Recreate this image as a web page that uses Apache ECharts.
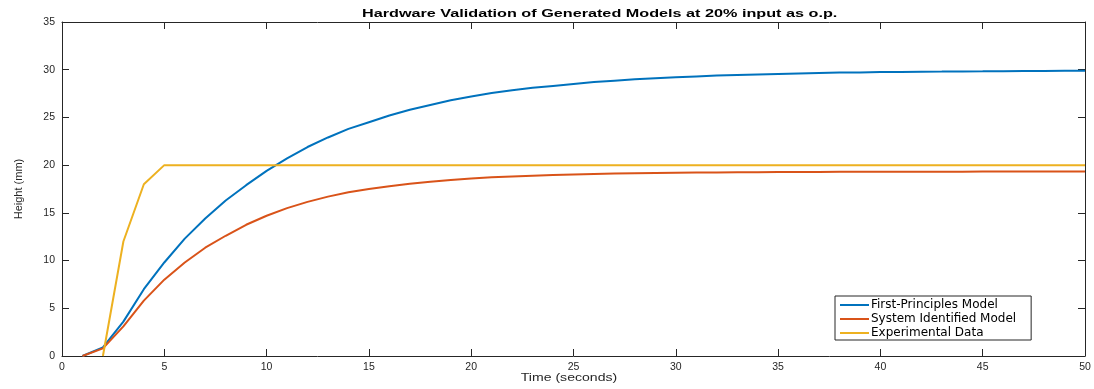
<!DOCTYPE html>
<html>
<head>
<meta charset="utf-8">
<script src="https://cdn.jsdelivr.net/npm/echarts@6/dist/echarts.min.js"></script>
<style>html,body{margin:0;padding:0;background:#fff;}#c{width:1094px;height:389px;}</style>
</head>
<body>
<div id="c"></div>
<script>
const timeModel = [1,2,3,4,5,6,7,8,9,10,11,12,13,14,15,16,17,18,19,20,21,22,23,24,25,26,27,28,29,30,31,32,33,34,35,36,37,38,39,40,41,42,43,44,45,46,47,48,49,50];
const firstPrinciples = [0,0.9,3.6,7.0,9.8,12.3,14.4,16.3,17.9,19.4,20.7,21.9,22.9,23.8,24.5,25.2,25.8,26.3,26.8,27.2,27.55,27.85,28.1,28.3,28.5,28.7,28.85,29.0,29.1,29.2,29.3,29.4,29.45,29.5,29.55,29.6,29.65,29.7,29.72,29.75,29.77,29.79,29.8,29.82,29.83,29.85,29.86,29.87,29.88,29.89];
const systemIdentified = [0,0.8,3.1,5.8,8.0,9.8,11.35,12.6,13.75,14.7,15.5,16.15,16.7,17.15,17.5,17.8,18.05,18.25,18.45,18.6,18.72,18.82,18.9,18.97,19.03,19.08,19.12,19.15,19.18,19.2,19.22,19.24,19.25,19.26,19.27,19.28,19.29,19.3,19.3,19.31,19.31,19.32,19.32,19.32,19.33,19.33,19.33,19.33,19.33,19.33];
const timeExp = [2,3,4,5,50];
const experimental = [0,12,18,20,20];
const xTicks = [0,5,10,15,20,25,30,35,40,45,50];
const yTicks = [0,5,10,15,20,25,30,35];
const titleText = 'Hardware Validation of Generated Models at 20% input as o.p.';
const xName = 'Time (seconds)';
const yName = 'Height (mm)';

const pairs = (t, v) => t.map((x, i) => [x, v[i]]);
const axisCol = '#262626';
const font = 'Liberation Sans, Arial, sans-serif';

const chart = echarts.init(document.getElementById('c'), null, {renderer: 'canvas'});
const baseX = {
  type: 'value', min: xTicks[0], max: xTicks[xTicks.length-1], interval: 5,
  axisLine: {show: true, onZero: false, lineStyle: {color: axisCol, width: 1}},
  axisTick: {show: true, inside: true, length: 7, lineStyle: {color: axisCol}},
  splitLine: {show: false}
};
const baseY = {
  type: 'value', min: yTicks[0], max: yTicks[yTicks.length-1], interval: 5,
  axisLine: {show: true, onZero: false, lineStyle: {color: axisCol, width: 1}},
  axisTick: {show: true, inside: true, length: 7, lineStyle: {color: axisCol}},
  splitLine: {show: false}
};
chart.setOption({
  animation: false,
  backgroundColor: '#fff',
  graphic: [
    {type: 'text', x: 362, y: 14, originX: 0, originY: 0, scaleX: 1.62, scaleY: 1,
     style: {text: titleText, fontFamily: font, fontSize: 10, fontWeight: 'bold', fill: '#000',
             textAlign: 'left', textVerticalAlign: 'middle'}},
    {type: 'text', x: 569, y: 378, originX: 0, originY: 0, scaleX: 1.34, scaleY: 1,
     style: {text: xName, fontFamily: font, fontSize: 10.5, fill: axisCol,
             textAlign: 'center', textVerticalAlign: 'middle'}}
  ],
  grid: {left: 62, right: 9, top: 22, bottom: 33},
  xAxis: [
    Object.assign({}, baseX, {
      position: 'bottom',
      axisLabel: {show: true, color: axisCol, fontFamily: font, fontSize: 10.5, margin: 6}
    }),
    Object.assign({}, baseX, {position: 'top', axisLabel: {show: false}})
  ],
  yAxis: [
    Object.assign({}, baseY, {
      position: 'left',
      name: yName, nameLocation: 'middle', nameGap: 38, nameRotate: 90,
      nameTextStyle: {fontFamily: font, fontSize: 11, color: axisCol},
      axisLabel: {show: true, color: axisCol, fontFamily: font, fontSize: 10.5, margin: 7}
    }),
    Object.assign({}, baseY, {position: 'right', axisLabel: {show: false}})
  ],
  legend: {
    orient: 'vertical', left: 835, top: 296,
    padding: [2, 15, 0, 5],
    borderColor: axisCol, borderWidth: 1, backgroundColor: '#fff',
    itemWidth: 29, itemHeight: 2, itemGap: 0,
    icon: 'rect',
    textStyle: {fontFamily: 'DejaVu Sans, sans-serif', fontSize: 12, color: '#000', padding: [0,0,0,-3], lineHeight: 14},
    data: ['First-Principles Model', 'System Identified Model', 'Experimental Data']
  },
  series: [
    {name: 'First-Principles Model', type: 'line', data: pairs(timeModel, firstPrinciples),
     showSymbol: false, symbol: 'none', lineStyle: {color: '#0072BD', width: 2}, itemStyle: {color: '#0072BD'}},
    {name: 'System Identified Model', type: 'line', data: pairs(timeModel, systemIdentified),
     showSymbol: false, symbol: 'none', lineStyle: {color: '#D95319', width: 2}, itemStyle: {color: '#D95319'}},
    {name: 'Experimental Data', type: 'line', data: pairs(timeExp, experimental),
     showSymbol: false, symbol: 'none', lineStyle: {color: '#EDB120', width: 2}, itemStyle: {color: '#EDB120'}}
  ]
});
</script>
</body>
</html>
